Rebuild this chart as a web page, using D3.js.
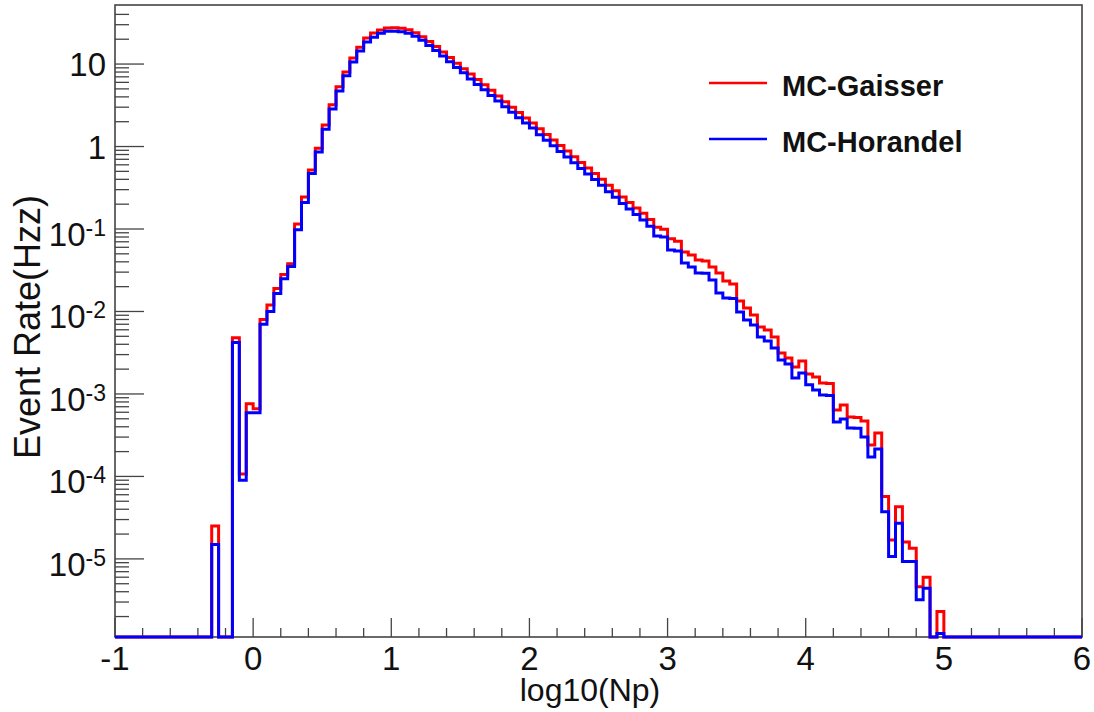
<!DOCTYPE html>
<html>
<head>
<meta charset="utf-8">
<script src="https://cdn.jsdelivr.net/npm/d3@7"></script>
<style>
  body { margin: 0; background: #fff; }
  svg { display: block; font-family: 'Liberation Sans', Arial, Helvetica, sans-serif; }
</style>
</head>
<body>
<svg id="chart" width="1094" height="712"></svg>
<script>
// histogram bins, 0.05 wide, first filled bin starts at -0.3 (everything else is empty)
const BIN_START = -0.3
const BIN_WIDTH = 0.05

const gaisser = [
  2.5e-5, 0, 0, 4.8e-3, 1.07e-4, 7.6e-4,
  6.6e-4, 8.0e-3, 1.2e-2, 1.9e-2, 2.8e-2, 3.8e-2, 0.115, 0.245, 0.52, 0.95,
  1.82, 3.2, 5.3, 8.0, 11.8, 16.0, 20.7, 23.8, 25.8, 27.3,
  27.6, 27.2, 26.0, 24.0, 21.5, 18.8, 16.3, 14.0, 12.0, 10.2,
  8.8, 7.6, 6.5, 5.6, 4.8, 4.1, 3.5, 3.0, 2.58, 2.22,
  1.93, 1.64, 1.40, 1.20, 1.03, 0.88, 0.75, 0.64, 0.55, 0.47,
  0.40, 0.34, 0.29, 0.245, 0.21, 0.18, 0.155, 0.13, 0.105, 0.099,
  0.076, 0.071, 0.0526, 0.0484, 0.0421, 0.041, 0.0346, 0.0293, 0.0234, 0.0216,
  0.0134, 0.0110, 0.00907, 0.00649, 0.00597, 0.00491, 0.00314, 0.00273, 0.00212, 0.00251,
  0.00175, 0.00161, 0.00136, 0.00134, 6.4e-4, 7.36e-4, 5.26e-4, 5.2e-4, 4.71e-4, 2.41e-4,
  3.37e-4, 5.7e-5, 1.7e-5, 4.3e-5, 1.6e-5, 1.35e-5, 4.6e-6, 6.0e-6, 0, 2.3e-6
]

const horandel = [
  1.5e-5, 0, 0, 4.2e-3, 9.0e-5, 5.9e-4,
  5.9e-4, 7.0e-3, 1.0e-2, 1.65e-2, 2.5e-2, 3.5e-2, 0.098, 0.21, 0.47, 0.86,
  1.62, 2.85, 4.7, 7.2, 10.6, 14.4, 18.5, 21.2, 23.7, 25.0,
  25.0, 24.7, 23.6, 21.8, 19.5, 16.8, 14.6, 12.5, 10.7, 9.1,
  7.85, 6.6, 5.65, 4.87, 4.17, 3.57, 3.04, 2.61, 2.24, 1.93,
  1.68, 1.39, 1.19, 1.02, 0.873, 0.746, 0.636, 0.542, 0.466, 0.398,
  0.339, 0.283, 0.242, 0.204, 0.175, 0.15, 0.129, 0.108, 0.0822, 0.080,
  0.0556, 0.054, 0.0387, 0.0346, 0.0293, 0.029, 0.0241, 0.0168, 0.0146, 0.0144,
  0.00986, 0.00789, 0.00686, 0.00491, 0.00439, 0.00361, 0.00258, 0.00231, 0.00156, 0.0018,
  0.00129, 0.00112, 9.7e-4, 9.6e-4, 4.58e-4, 4.98e-4, 3.87e-4, 3.85e-4, 3.01e-4, 1.72e-4,
  2.15e-4, 3.74e-5, 1.07e-5, 2.7e-5, 9.3e-6, 9.3e-6, 3.2e-6, 4.4e-6, 0, 1.25e-6
]

const xTickValues = [-1, 0, 1, 2, 3, 4, 5, 6]
const yDecades = [10, 1, 1e-1, 1e-2, 1e-3, 1e-4, 1e-5]
const legendLabels = ['MC-Gaisser', 'MC-Horandel']
const seriesColors = ['#ff0000', '#0000ff']

const X_DOMAIN = [-1, 6]
const Y_DOMAIN = [1.13e-6, 52]

const FRAME = { left: 115, right: 1082, top: 5, bottom: 637 }
const AXIS_COLOR = '#444'

const svg = d3.select('#chart')
svg.append('rect').attr('width', 1094).attr('height', 712).attr('fill', '#fff')

const x = d3.scaleLinear(X_DOMAIN, [FRAME.left, FRAME.right])
const y = d3.scaleLog(Y_DOMAIN, [FRAME.bottom, FRAME.top])

/*
** frame + ticks
*/

svg.append('rect')
  .attr('x', FRAME.left)
  .attr('y', FRAME.top)
  .attr('width', FRAME.right - FRAME.left)
  .attr('height', FRAME.bottom - FRAME.top)
  .attr('fill', 'none')
  .attr('stroke', AXIS_COLOR)
  .attr('stroke-width', 1.6)

// x ticks: majors every 1, minors every 0.2, drawn upward from the bottom
const xMinor = d3.range(-1, 6.001, 0.2).filter(v => Math.abs(v - Math.round(v)) > 1e-6)

svg.append('g').selectAll('line')
  .data(xTickValues.map(v => ({ v, len: 19 })).concat(xMinor.map(v => ({ v, len: 9 }))))
  .enter().append('line')
  .attr('x1', d => x(d.v)).attr('x2', d => x(d.v))
  .attr('y1', FRAME.bottom).attr('y2', d => FRAME.bottom - d.len)
  .attr('stroke', AXIS_COLOR)
  .attr('stroke-width', 1.3)

svg.append('g').selectAll('text')
  .data(xTickValues)
  .enter().append('text')
  .attr('x', d => x(d))
  .attr('y', 670)
  .attr('text-anchor', 'middle')
  .attr('font-size', 33)
  .attr('fill', '#111')
  .text(d => d)

// y ticks: decades plus 2..9 minors, drawn rightward from the left edge
const yMinor = []
d3.range(-7, 2).forEach(k => {
  d3.range(2, 10).forEach(m => {
    const v = m * Math.pow(10, k)
    if (v > Y_DOMAIN[0] && v < Y_DOMAIN[1] * 0.95) yMinor.push(v)
  })
})

svg.append('g').selectAll('line')
  .data(yDecades.map(v => ({ v, len: 29 })).concat(yMinor.map(v => ({ v, len: 14 }))))
  .enter().append('line')
  .attr('x1', FRAME.left).attr('x2', d => FRAME.left + d.len)
  .attr('y1', d => y(d.v)).attr('y2', d => y(d.v))
  .attr('stroke', AXIS_COLOR)
  .attr('stroke-width', 1.3)

const yLabels = svg.append('g').selectAll('text')
  .data(yDecades)
  .enter().append('text')
  .attr('x', 106)
  .attr('text-anchor', 'end')
  .attr('font-size', 33)
  .attr('fill', '#111')
  .attr('y', d => y(d) + (d >= 1 ? 12 : 17))

yLabels.each(function (d) {
  const exp = Math.round(Math.log10(d))
  const t = d3.select(this)
  if (exp === 1) t.text('10')
  else if (exp === 0) t.text('1')
  else {
    t.append('tspan').text('10')
    t.append('tspan').attr('font-size', 23).attr('dy', -10).text(exp)
  }
})

// axis titles
svg.append('text')
  .attr('x', 590)
  .attr('y', 701)
  .attr('text-anchor', 'middle')
  .attr('font-size', 32)
  .attr('fill', '#111')
  .text('log10(Np)')

svg.append('text')
  .attr('transform', 'translate(40,327) rotate(-90)')
  .attr('text-anchor', 'middle')
  .attr('font-size', 36)
  .attr('fill', '#111')
  .text('Event Rate(Hzz)')

/*
** histograms
*/

const nBins = Math.round((X_DOMAIN[1] - X_DOMAIN[0]) / BIN_WIDTH)
const offset = Math.round((BIN_START - X_DOMAIN[0]) / BIN_WIDTH)

function binsFor(values) {
  const pts = d3.range(nBins).map(i => {
    const v = values[i - offset] || 0
    return [X_DOMAIN[0] + i * BIN_WIDTH, Math.max(v, Y_DOMAIN[0])]
  })
  pts.push([X_DOMAIN[1], pts[pts.length - 1][1]])
  return pts
}

const histLine = d3.line()
  .x(d => x(d[0]))
  .y(d => y(d[1]))
  .curve(d3.curveStepAfter)

;[gaisser, horandel].forEach((values, i) => {
  svg.append('path')
    .datum(binsFor(values))
    .attr('d', histLine)
    .attr('fill', 'none')
    .attr('stroke', seriesColors[i])
    .attr('stroke-width', 3)
    .attr('stroke-linejoin', 'miter')
})

/*
** legend
*/

const legend = svg.append('g').selectAll('g')
  .data(legendLabels)
  .enter().append('g')
  .attr('transform', (d, i) => `translate(0,${83 + i * 56})`)

legend.append('line')
  .attr('x1', 709).attr('x2', 767)
  .attr('y1', 0).attr('y2', 0)
  .attr('stroke', (d, i) => seriesColors[i])
  .attr('stroke-width', 2.5)

legend.append('text')
  .attr('x', 782)
  .attr('y', 13)
  .attr('font-size', 29)
  .attr('font-weight', 'bold')
  .attr('fill', '#111')
  .text(d => d)
</script>
</body>
</html>
